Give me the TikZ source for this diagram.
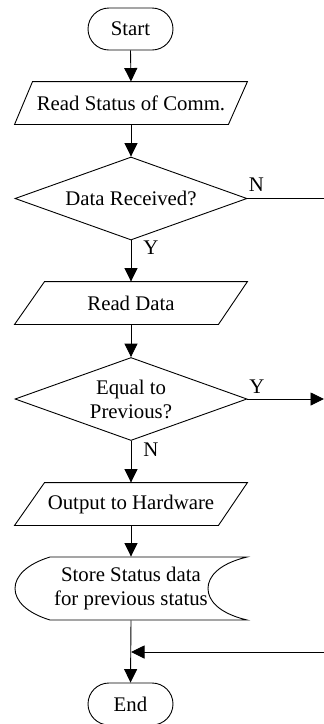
\documentclass[tikz,border=0pt]{standalone}
\usepackage{fontspec}
\setmainfont{Liberation Serif}
\usetikzlibrary{arrows.meta,calc,shapes.geometric}
\begin{document}
\begin{tikzpicture}[x=1pt,y=-1pt, line width=0.9pt,
  font=\fontsize{20.8}{24}\selectfont,
  every node/.style={inner sep=0pt, align=center},
  term/.style={draw, rounded corners=21pt, minimum width=85pt, minimum height=42pt},
  iobox/.style={minimum width=232pt, minimum height=42pt},
  storebox/.style={minimum width=232pt, minimum height=63pt},
  dec/.style={draw, diamond, minimum width=232pt, minimum height=83pt, aspect=2.8},
  arr/.style={-{Triangle[length=13.5pt,width=13pt]}},
  lbl/.style={inner sep=0pt}
]
\useasboundingbox (0,0) rectangle (324,724);

% nodes
\node[term] (start) at (130.5,29) {Start};
\node[iobox] (rs) at (131,103) {Read Status of Comm.};
\node[dec] (d1) at (131,198.5) {Data Received?};
\node[iobox] (rd) at (131,303) {Read Data};
\node[dec] (d2) at (131,399) {Equal to\\Previous?};
\node[iobox] (out) at (131,504) {Output to Hardware};
\node[storebox] (st) at (131,588.5) {Store Status data\\for previous status};
\node[term] (end) at (130.5,704) {End};

% shape outlines
\draw ($(rs.north west)+(18,0)$) -- (rs.north east) -- ($(rs.south east)+(-19,0)$) -- (rs.south west) -- cycle;
\draw ($(rd.north west)+(30,0)$) -- (rd.north east) -- ($(rd.south east)+(-29,0)$) -- (rd.south west) -- cycle;
\draw ($(out.north west)+(30,0)$) -- (out.north east) -- ($(out.south east)+(-29,0)$) -- (out.south west) -- cycle;
\draw (50,557) -- (247,557)
  .. controls (218,564) and (208,577) .. (208,588.5)
  .. controls (208,600) and (218,613) .. (247,620)
  -- (50,620)
  .. controls (27,613) and (15,601) .. (15,588.5)
  .. controls (15,576) and (27,564) .. (50,557) -- cycle;

% free ends
\coordinate (r1) at (324,198.5);
\coordinate (r2) at (324,399);
\coordinate (r3) at (324,652);
\coordinate (j) at (131,652);

% connectors
\draw[arr] (start.south) -- (rs.north);
\draw[arr] (rs.south) -- (d1.north);
\draw[arr] (d1.south) -- (rd.north);
\draw (d1.east) -- (r1);
\draw[arr] (rd.south) -- (d2.north);
\draw[arr] (d2.east) -- (r2);
\draw[arr] (d2.south) -- (out.north);
\draw[arr] (out.south) -- (st.north);
\draw[arr] (st.south) -- (end.north);
\draw[arr] (r3) -- (j);

% labels
\node[lbl] (n1) at (256.5,185) {N};
\node[lbl] (y1) at (151,248) {Y};
\node[lbl] (y2) at (257,387) {Y};
\node[lbl] (n2) at (151,450) {N};
\end{tikzpicture}
\end{document}
